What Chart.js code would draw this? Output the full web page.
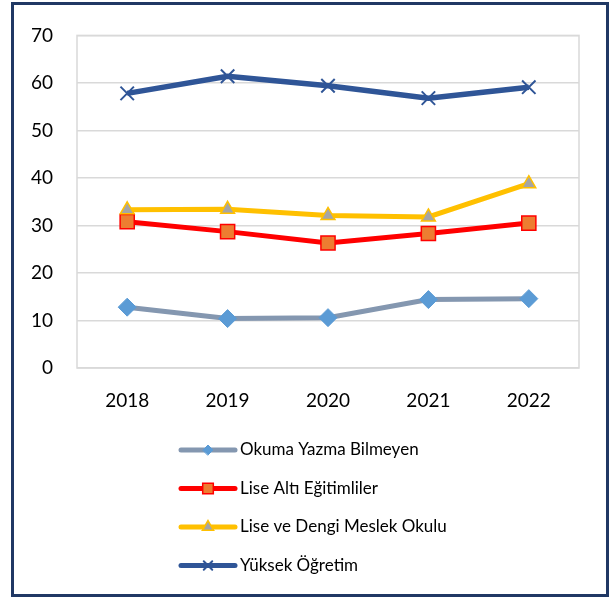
<!DOCTYPE html>
<html>
<head>
<meta charset="utf-8">
<script src="https://cdn.jsdelivr.net/npm/chart.js@4.4.0/dist/chart.umd.min.js"></script>
<style>
  html, body { margin: 0; padding: 0; background: #fff; }
  #wrap { position: relative; width: 615px; height: 599px; }
  #frame { position: absolute; left: 11px; top: 2px; width: 592px; height: 589px; border: 3px solid #203864; pointer-events: none; }
  canvas { position: absolute; left: 0; top: 0; }
</style>
</head>
<body>
<div id="wrap">
  <canvas id="chart" width="615" height="599"></canvas>
  <div id="frame"></div>
</div>
<script>
const years = ['2018', '2019', '2020', '2021', '2022'];
const okuma = [12.8, 10.4, 10.6, 14.4, 14.6];
const liseAlti = [30.8, 28.7, 26.3, 28.3, 30.5];
const liseDengi = [33.3, 33.4, 32.1, 31.8, 38.8];
const yuksek = [57.8, 61.4, 59.4, 56.8, 59.1];
const seriesNames = ['Okuma Yazma Bilmeyen', 'Lise Altı Eğitimliler', 'Lise ve Dengi Meslek Okulu', 'Yüksek Öğretim'];

// grey frame around the plot area
const plotFrame = {
  id: 'plotFrame',
  afterDraw(chart) {
    const a = chart.chartArea, ctx = chart.ctx;
    ctx.save();
    ctx.strokeStyle = '#D9D9D9';
    ctx.lineWidth = 1.5;
    ctx.strokeRect(a.left, a.top, a.right - a.left, a.bottom - a.top);
    ctx.restore();
  }
};

// one legend entry per row, Excel style
const columnLegend = {
  id: 'columnLegend',
  afterDraw(chart, args, opts) {
    const ctx = chart.ctx;
    ctx.save();
    chart.data.datasets.forEach((ds, i) => {
      const y = opts.top + i * opts.step;
      ctx.strokeStyle = ds.borderColor;
      ctx.lineWidth = opts.lineWidth;
      ctx.lineCap = 'round';
      ctx.beginPath();
      ctx.moveTo(opts.x0, y);
      ctx.lineTo(opts.x1, y);
      ctx.stroke();
      ctx.fillStyle = ds.pointBackgroundColor;
      ctx.strokeStyle = ds.pointBorderColor;
      ctx.lineWidth = ds.pointBorderWidth;
      Chart.helpers.drawPoint(ctx, {
        pointStyle: ds.pointStyle,
        radius: opts.markerRadius[i],
        rotation: 0,
        borderWidth: ds.pointBorderWidth
      }, (opts.x0 + opts.x1) / 2, y);
      ctx.fillStyle = '#000';
      ctx.font = opts.font;
      ctx.textBaseline = 'middle';
      ctx.textAlign = 'left';
      ctx.fillText(ds.label, opts.x1 + 5, y);
    });
    ctx.restore();
  }
};

new Chart(document.getElementById('chart'), {
  type: 'line',
  data: {
    labels: years,
    datasets: [
      {
        label: seriesNames[0], data: okuma, order: 3,
        borderColor: '#8497B0', borderWidth: 5,
        pointStyle: 'rectRot', pointRadius: 9, pointHoverRadius: 9,
        pointBackgroundColor: '#5B9BD5', pointBorderColor: '#5B9BD5', pointBorderWidth: 1
      },
      {
        label: seriesNames[1], data: liseAlti, order: 2,
        borderColor: '#FF0000', borderWidth: 5,
        pointStyle: 'rect', pointRadius: 10, pointHoverRadius: 10,
        pointBackgroundColor: '#ED7D31', pointBorderColor: '#FF0000', pointBorderWidth: 1.5
      },
      {
        label: seriesNames[2], data: liseDengi, order: 1,
        borderColor: '#FFC000', borderWidth: 5,
        pointStyle: 'triangle', pointRadius: 8, pointHoverRadius: 8,
        pointBackgroundColor: '#A5A5A5', pointBorderColor: '#FFC000', pointBorderWidth: 1.5
      },
      {
        label: seriesNames[3], data: yuksek, order: 0,
        borderColor: '#2F5597', borderWidth: 5.5,
        pointStyle: 'crossRot', pointRadius: 9.5, pointHoverRadius: 9.5,
        pointBackgroundColor: '#2F5597', pointBorderColor: '#2F5597', pointBorderWidth: 2
      }
    ]
  },
  options: {
    responsive: false,
    animation: false,
    layout: { padding: { top: 29, right: 36, bottom: 181, left: 0 } },
    plugins: {
      legend: { display: false },
      tooltip: { enabled: false },
      columnLegend: {
        top: 450, step: 38.5, x0: 181, x1: 235, lineWidth: 5,
        markerRadius: [5, 7.5, 6.5, 6],
        font: '17px Lato'
      }
    },
    scales: {
      x: {
        offset: true,
        grid: { display: false, drawTicks: false, offset: true },
        border: { display: false },
        ticks: { color: '#000', padding: 21, font: { family: 'Lato', size: 19 } },
        afterFit(s) { s.height = 50; }
      },
      y: {
        min: 0, max: 70,
        grid: { color: '#D9D9D9', lineWidth: 1.5, drawTicks: false },
        border: { display: false },
        ticks: { stepSize: 10, color: '#000', padding: 24, font: { family: 'Lato', size: 19 } },
        afterFit(s) { s.width = 77; }
      }
    }
  },
  plugins: [plotFrame, columnLegend]
});
</script>
</body>
</html>
